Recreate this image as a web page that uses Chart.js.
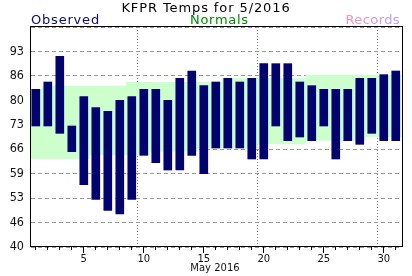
<!DOCTYPE html>
<html>
<head>
<meta charset="utf-8">
<script src="https://cdn.jsdelivr.net/npm/chart.js@4.4.1/dist/chart.umd.min.js"></script>
<style>
  html, body { margin: 0; padding: 0; background: #fff; }
  #wrap { position: relative; width: 412px; height: 276px; }
</style>
</head>
<body>
<div id="wrap"><canvas id="chart-temps"></canvas></div>
<script>
const days      = [1, 2, 3, 4, 5, 6, 7, 8, 9, 10, 11, 12, 13, 14, 15, 16, 17, 18, 19, 20, 21, 22, 23, 24, 25, 26, 27, 28, 29, 30, 31];
const obsHigh   = [83, 85, 92, 73, 81, 78, 77, 80, 81, 83, 83, 80, 86, 88, 84, 85, 86, 85, 86, 90, 90, 90, 85, 84, 83, 83, 83, 86, 86, 87, 88];
const obsLow    = [73, 73, 71, 66, 57, 53, 50, 49, 53, 65, 63, 61, 61, 65, 60, 67, 67, 67, 64, 64, 73, 69, 70, 69, 73, 64, 69, 68, 71, 69, 69];
const normHigh  = [83, 84, 84, 84, 84, 84, 84, 84, 85, 85, 85, 85, 85, 85, 85, 85, 86, 86, 86, 86, 86, 86, 86, 87, 87, 87, 87, 87, 87, 87, 87];
const normLow   = [64, 64, 64, 64, 64, 65, 65, 65, 65, 65, 66, 66, 66, 66, 67, 67, 67, 67, 67, 68, 68, 68, 68, 69, 69, 69, 69, 69, 70, 70, 70];
const yTickValues = [40, 46.667, 53.333, 60, 66.667, 73.333, 80, 86.667, 93.333, 100];
const yTickLabels = ['40', '46', '53', '59', '66', '73', '80', '86', '93', ''];
const xTickLabels = ['5', '10', '15', '20', '25', '30'];

const NAVY = '#03036f';

// each day's normal spans the whole day slot, so the band steps at day edges
function stepPoints(vals) {
  return vals.flatMap((v, i) => [{ x: days[i] - 0.5, y: v }, { x: days[i] + 0.5, y: v }]);
}

const decor = {
  id: 'decor',
  afterDraw(chart) {
    const { ctx, chartArea: a, scales } = chart;
    ctx.save();
    // frame
    ctx.strokeStyle = '#000';
    ctx.lineWidth = 1;
    ctx.strokeRect(a.left - 0.5, a.top - 0.5, a.right - a.left + 1, a.bottom - a.top);
    // day tick marks, longer every 5 days
    ctx.beginPath();
    days.forEach(d => {
      const x = Math.floor(scales.x.getPixelForValue(d)) + 0.5;
      ctx.moveTo(x, a.bottom);
      ctx.lineTo(x, a.bottom + (d % 5 === 0 ? 6 : 3));
    });
    ctx.stroke();

    ctx.textBaseline = 'alphabetic';
    ctx.font = '13px "DejaVu Sans"';
    ctx.fillStyle = '#000';
    ctx.textAlign = 'center';
    ctx.letterSpacing = '0.9px';
    ctx.fillText('KFPR Temps for 5/2016', 206, 12);

    ctx.textAlign = 'left';
    ctx.letterSpacing = '0.8px';
    ctx.fillStyle = '#0a0a70';
    ctx.fillText('Observed', 31, 23.5);
    ctx.letterSpacing = '0.7px';
    ctx.fillStyle = '#008800';
    ctx.fillText('Normals', 190, 23.5);
    ctx.textAlign = 'right';
    ctx.letterSpacing = '0.4px';
    const g = ctx.createLinearGradient(344, 0, 400, 0);
    g.addColorStop(0, '#ff8fa8');
    g.addColorStop(1, '#b9a0ff');
    ctx.fillStyle = g;
    ctx.fillText('Records', 400, 23.5);

    ctx.letterSpacing = '0px';
    ctx.textAlign = 'center';
    ctx.font = '10px "DejaVu Sans"';
    ctx.fillStyle = '#111';
    ctx.fillText('May 2016', 215, 271);
    ctx.restore();
  }
};

new Chart(document.getElementById('chart-temps'), {
  type: 'bar',
  data: {
    datasets: [
      { type: 'line', data: stepPoints(normHigh), fill: '+1', backgroundColor: '#ccffcc',
        borderWidth: 0, pointRadius: 0, tension: 0, order: 2 },
      { type: 'line', data: stepPoints(normLow), fill: false,
        borderWidth: 0, pointRadius: 0, tension: 0, order: 3 },
      { type: 'bar', data: days.map((d, i) => ({ x: d, y: [obsLow[i], obsHigh[i]] })),
        backgroundColor: NAVY, borderWidth: 0, barThickness: 8, order: 1 }
    ]
  },
  options: {
    responsive: true,
    maintainAspectRatio: false,
    devicePixelRatio: 1,
    animation: false,
    layout: { padding: { left: 0, top: 27, right: 10, bottom: 0 } },
    plugins: { legend: { display: false }, tooltip: { enabled: false } },
    scales: {
      x: {
        type: 'linear', min: 0.6, max: 31.52, offset: false, z: 1,
        afterBuildTicks: s => { s.ticks = days.map(d => ({ value: d })); },
        afterFit: s => { s.height = 29; },
        ticks: {
          callback: v => xTickLabels.includes(String(v)) ? String(v) : '',
          font: { family: 'DejaVu Sans', size: 10 }, color: '#111',
          padding: 6, maxRotation: 0, autoSkip: false
        },
        grid: {
          color: ctx => (ctx.tick && ctx.tick.value % 10 === 0) ? '#777' : 'rgba(0,0,0,0)',
          drawTicks: false
        },
        border: { display: false, dash: [1, 2] }
      },
      y: {
        type: 'linear', min: 40, max: 100, z: 1,
        afterBuildTicks: s => { s.ticks = yTickValues.map(v => ({ value: v })); },
        afterFit: s => { s.width = 31; },
        ticks: {
          callback: (v, i) => yTickLabels[i],
          font: { family: '"DejaVu Sans Condensed", "DejaVu Sans"', size: 12.5 }, color: '#111',
          padding: 7
        },
        grid: { color: '#999', drawTicks: false },
        border: { display: false, dash: [4, 3] }
      }
    }
  },
  plugins: [decor]
});
</script>
</body>
</html>
